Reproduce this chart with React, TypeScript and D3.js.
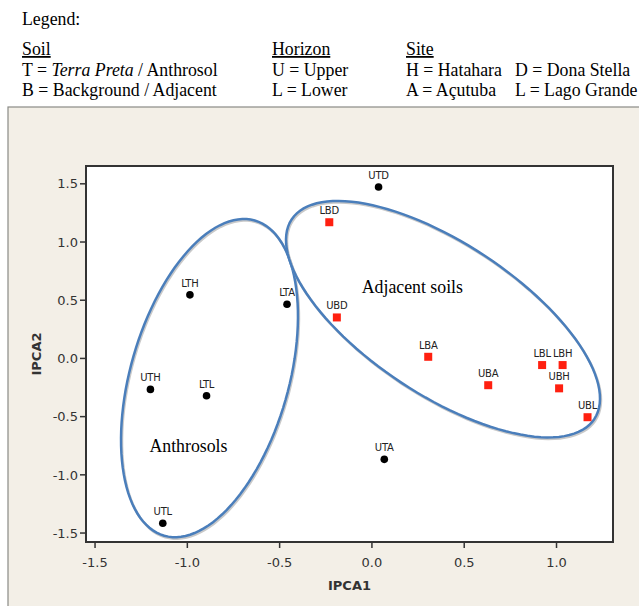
import React from 'react';
import * as d3 from 'd3';

// sample scores (IPCA1, IPCA2)
const anthrosolNames = ['UTD', 'LTH', 'LTA', 'UTH', 'LTL', 'UTA', 'UTL'];
const anthrosolX = [0.036, -0.986, -0.46, -1.2, -0.896, 0.067, -1.133];
const anthrosolY = [1.473, 0.546, 0.466, -0.266, -0.321, -0.867, -1.416];

const adjacentNames = ['LBD', 'UBD', 'LBA', 'LBL', 'LBH', 'UBA', 'UBH', 'UBL'];
const adjacentX = [-0.231, -0.19, 0.305, 0.922, 1.033, 0.63, 1.014, 1.168];
const adjacentY = [1.17, 0.352, 0.014, -0.057, -0.057, -0.23, -0.257, -0.505];

const xTicks = [-1.5, -1.0, -0.5, 0.0, 0.5, 1.0];
const yTicks = [-1.5, -1.0, -0.5, 0.0, 0.5, 1.0, 1.5];

// group ellipses in data units: centre, two conjugate half-axes
const ellipseNames = ['Anthrosols', 'Adjacent soils'];
const ellipseCenters = [[-0.88, -0.169], [0.385, 0.337]];
const ellipseAxisU = [[0.245, 1.354], [0.82, -0.857]];
const ellipseAxisV = [[0.412, -0.187], [0.226, 0.545]];
const ellipseLabelPos = [[-0.994, -0.804], [0.219, 0.56]];

const width = 639;
const height = 606;
const margin = { top: 166, right: 26, bottom: 64, left: 86 };

const x = d3.scaleLinear()
  .domain([-1.549, 1.306])
  .range([margin.left, width - margin.right]);
const y = d3.scaleLinear()
  .domain([-1.577, 1.653])
  .range([height - margin.bottom, margin.top]);

const serif = '"Liberation Serif", "Times New Roman", serif';
const sans = '"DejaVu Sans", Verdana, sans-serif';

const ellipsePath = (i: number) => {
  const [cx, cy] = ellipseCenters[i];
  const [ux, uy] = ellipseAxisU[i];
  const [vx, vy] = ellipseAxisV[i];
  const pts = d3.range(0, 120).map(k => {
    const t = (k / 120) * Math.PI * 2;
    return [cx + ux * Math.cos(t) + vx * Math.sin(t), cy + uy * Math.cos(t) + vy * Math.sin(t)];
  });
  return d3.line()
    .x(d => x(d[0]))
    .y(d => y(d[1]))
    .curve(d3.curveLinearClosed)(pts as [number, number][]);
};

const App = () => {
  const plotL = margin.left;
  const plotR = width - margin.right;
  const plotT = margin.top;
  const plotB = height - margin.bottom;

  return (
    <svg width={width} height={height} style={{ position: 'absolute', left: 0, top: 0 }}>
      <rect x={0} y={0} width={width} height={height} fill="#fff" />

      {/* legend */}
      <g fontFamily={serif} fontSize={17.8} fill="#000">
        <text x={22} y={25}>Legend:</text>
        <text x={22} y={55} textDecoration="underline">Soil</text>
        <text x={22} y={76}>T = <tspan fontStyle="italic">Terra Preta</tspan> / Anthrosol</text>
        <text x={22} y={96}>B = Background / Adjacent</text>
        <text x={272} y={55} textDecoration="underline">Horizon</text>
        <text x={272} y={76}>U = Upper</text>
        <text x={272} y={96}>L = Lower</text>
        <text x={406} y={55} textDecoration="underline">Site</text>
        <text x={406} y={76}>H = Hatahara</text>
        <text x={406} y={96}>A = Açutuba</text>
        <text x={515} y={76}>D = Dona Stella</text>
        <text x={515} y={96}>L = Lago Grande</text>
      </g>

      {/* minitab-style panel */}
      <rect x={8} y={107} width={640} height={510} fill="#f3efe7" stroke="#8a8a86" strokeWidth={1.2} />
      <rect x={plotL} y={plotT} width={plotR - plotL} height={plotB - plotT} fill="#fff" stroke="#333" strokeWidth={2} />

      {/* axes */}
      <g fontFamily={sans} fontSize={13} fill="#333">
        {xTicks.map(t => (
          <g key={t}>
            <line x1={x(t)} x2={x(t)} y1={plotB} y2={plotB + 6} stroke="#333" strokeWidth={1.5} />
            <text x={x(t)} y={plotB + 25} textAnchor="middle">{t.toFixed(1)}</text>
          </g>
        ))}
        {yTicks.map(t => (
          <g key={t}>
            <line x1={plotL - 6} x2={plotL} y1={y(t)} y2={y(t)} stroke="#333" strokeWidth={1.5} />
            <text x={plotL - 8} y={y(t)} dy="0.36em" textAnchor="end">{t.toFixed(1)}</text>
          </g>
        ))}
        <text x={(plotL + plotR) / 2} y={590} textAnchor="middle" fontWeight="bold">IPCA1</text>
        <text transform={`translate(41,${(plotT + plotB) / 2}) rotate(-90)`} textAnchor="middle" fontWeight="bold">IPCA2</text>
      </g>

      {/* ellipses */}
      {ellipseNames.map((name, i) => (
        <g key={name}>
          <path d={ellipsePath(i) || ''} transform="translate(1,1.5)" fill="none" stroke="#c9c9c9" strokeWidth={2.5} />
          <path d={ellipsePath(i) || ''} fill="none" stroke="#4a7ebb" strokeWidth={2.5} />
          <text x={x(ellipseLabelPos[i][0])} y={y(ellipseLabelPos[i][1])} textAnchor="middle"
            fontFamily={serif} fontSize={17.8} fill="#000">{name}</text>
        </g>
      ))}

      {/* anthrosol points */}
      {anthrosolNames.map((n, i) => (
        <g key={n}>
          <circle cx={x(anthrosolX[i])} cy={y(anthrosolY[i])} r={3.8} fill="#000" />
          <text x={x(anthrosolX[i])} y={y(anthrosolY[i]) - 8} textAnchor="middle"
            fontFamily={sans} fontSize={10} letterSpacing={-0.2} fill="#222">{n}</text>
        </g>
      ))}

      {/* adjacent points */}
      {adjacentNames.map((n, i) => (
        <g key={n}>
          <rect x={x(adjacentX[i]) - 4} y={y(adjacentY[i]) - 4} width={8} height={8} fill="#ff2010" />
          <text x={x(adjacentX[i])} y={y(adjacentY[i]) - 8} textAnchor="middle"
            fontFamily={sans} fontSize={10} letterSpacing={-0.2} fill="#222">{n}</text>
        </g>
      ))}
    </svg>
  );
};

export default App;
